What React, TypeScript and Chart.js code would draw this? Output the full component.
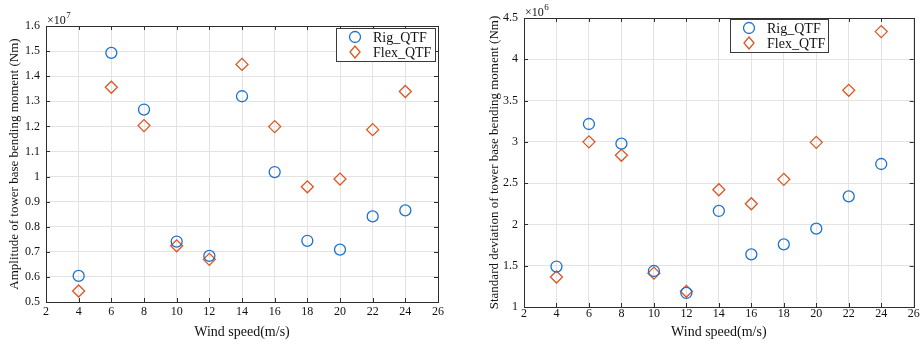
import React, { useEffect, useRef } from "react";
import { Chart, registerables } from "chart.js";

Chart.register(...registerables);

// ---------- data ----------
const windSpeeds = [4, 6, 8, 10, 12, 14, 16, 18, 20, 22, 24];
const seriesNames = ["Rig_QTF", "Flex_QTF"];
// amplitude (x 1e7 Nm)
const ampRig = [0.604, 1.493, 1.267, 0.741, 0.684, 1.32, 1.018, 0.744, 0.709, 0.841, 0.865];
const ampFlex = [0.544, 1.356, 1.203, 0.724, 0.67, 1.447, 1.199, 0.959, 0.99, 1.187, 1.339];
// standard deviation (x 1e6 Nm)
const stdRig = [1.49, 3.216, 2.978, 1.436, 1.17, 2.163, 1.638, 1.759, 1.949, 2.34, 2.732];
const stdFlex = [1.363, 3.0, 2.837, 1.41, 1.19, 2.42, 2.25, 2.546, 2.994, 3.624, 4.335];
const xTitle = "Wind speed(m/s)";
const ampTitle = "Amplitude of tower base bending moment (Nm)";
const stdTitle = "Standard deviation of tower base bending moment (Nm)";

const RIG_COLOR = "#1d72cf";
const FLEX_COLOR = "#df5520";
const TEXT = "#111";
const FONT = "'Liberation Serif', 'Times New Roman', serif";

function fmt(v: number) {
  return String(Number(v.toFixed(2)));
}

function drawMarker(ctx: CanvasRenderingContext2D, style: string, x: number, y: number, color: string) {
  ctx.save();
  ctx.strokeStyle = color;
  ctx.lineWidth = 1.3;
  ctx.beginPath();
  if (style === "circle") {
    ctx.arc(x, y, 5.5, 0, Math.PI * 2);
  } else {
    ctx.moveTo(x, y - 6);
    ctx.lineTo(x + 5, y);
    ctx.lineTo(x, y + 6);
    ctx.lineTo(x - 5, y);
    ctx.closePath();
  }
  ctx.stroke();
  ctx.restore();
}

const framePlugin = {
  id: "matlabFrame",
  afterDraw(chart: any, _args: any, opts: any) {
    const ctx: CanvasRenderingContext2D = chart.ctx;
    const { left, right, top, bottom } = chart.chartArea;
    const xs = chart.scales.x;
    const ys = chart.scales.y;
    ctx.save();
    ctx.strokeStyle = "#2e2e2e";
    ctx.lineWidth = 1;
    // inner ticks
    ctx.beginPath();
    xs.ticks.forEach((t: any) => {
      const px = Math.round(xs.getPixelForValue(t.value)) + 0.5;
      ctx.moveTo(px, bottom);
      ctx.lineTo(px, bottom - 4);
      ctx.moveTo(px, top);
      ctx.lineTo(px, top + 4);
    });
    ys.ticks.forEach((t: any) => {
      const py = Math.round(ys.getPixelForValue(t.value)) + 0.5;
      ctx.moveTo(left, py);
      ctx.lineTo(left + 4, py);
      ctx.moveTo(right, py);
      ctx.lineTo(right - 4, py);
    });
    ctx.stroke();
    // box
    ctx.strokeRect(Math.round(left) + 0.5, Math.round(top) + 0.5, Math.round(right - left), Math.round(bottom - top));

    // exponent label
    ctx.fillStyle = TEXT;
    ctx.textBaseline = "alphabetic";
    ctx.textAlign = "left";
    ctx.font = `12px ${FONT}`;
    const ex = left + 1;
    const ey = top - 2;
    ctx.fillText("×10", ex, ey);
    const w = ctx.measureText("×10").width;
    ctx.font = `9px ${FONT}`;
    ctx.fillText(opts.exponent, ex + w + 0.5, ey - 6);

    // legend
    const lg = opts.legend;
    ctx.fillStyle = "#ffffff";
    ctx.fillRect(lg.x, lg.y, lg.w, lg.h);
    ctx.strokeStyle = "#3a3a3a";
    ctx.lineWidth = 1;
    ctx.strokeRect(lg.x + 0.5, lg.y + 0.5, lg.w, lg.h);
    ctx.font = `14px ${FONT}`;
    ctx.textBaseline = "middle";
    chart.data.datasets.forEach((ds: any, i: number) => {
      const ry = lg.y + 9 + i * 15;
      drawMarker(ctx, ds.pointStyle, lg.x + 19, ry, ds.borderColor);
      ctx.fillStyle = TEXT;
      ctx.fillText(ds.label, lg.x + 37, ry + 1);
    });
    ctx.restore();
  },
};

type PanelProps = {
  width: number;
  height: number;
  rig: number[];
  flex: number[];
  yMin: number;
  yMax: number;
  yStep: number;
  yTitle: string;
  exponent: string;
  yWidth: number;
  xHeight: number;
  padRight: number;
  padTop: number;
  yTitlePad: number;
  xTickPad: number;
  legend: { x: number; y: number; w: number; h: number };
};

function Panel(p: PanelProps) {
  const ref = useRef<HTMLCanvasElement | null>(null);
  useEffect(() => {
    if (!ref.current) return;
    const chart = new Chart(ref.current, {
      type: "scatter",
      data: {
        datasets: [
          {
            label: seriesNames[0],
            data: windSpeeds.map((x, i) => ({ x, y: p.rig[i] })),
            pointStyle: "circle",
            pointRadius: 5.5,
            pointHoverRadius: 5.5,
            borderColor: RIG_COLOR,
            backgroundColor: "rgba(0,0,0,0)",
            pointBorderWidth: 1.3,
          },
          {
            label: seriesNames[1],
            data: windSpeeds.map((x, i) => ({ x, y: p.flex[i] })),
            pointStyle: "rectRot",
            pointRadius: 6,
            pointHoverRadius: 6,
            borderColor: FLEX_COLOR,
            backgroundColor: "rgba(0,0,0,0)",
            pointBorderWidth: 1.3,
          },
        ],
      },
      options: {
        animation: false,
        responsive: false,
        events: [],
        layout: { padding: { left: 0, right: p.padRight, top: p.padTop, bottom: 0 } },
        plugins: {
          legend: { display: false },
          tooltip: { enabled: false },
          matlabFrame: { exponent: p.exponent, legend: p.legend },
        } as any,
        scales: {
          x: {
            type: "linear",
            min: 2,
            max: 26,
            ticks: {
              stepSize: 2,
              padding: p.xTickPad,
              color: TEXT,
              font: { family: FONT, size: 12 },
              maxRotation: 0,
            },
            grid: { color: "#e3e3e3", drawTicks: false, lineWidth: 1 },
            border: { display: false },
            title: {
              display: true,
              text: xTitle,
              color: TEXT,
              font: { family: FONT, size: 14 },
              padding: { top: 0, bottom: 3 },
            },
            afterFit: (s: any) => {
              s.height = p.xHeight;
            },
          },
          y: {
            type: "linear",
            min: p.yMin,
            max: p.yMax,
            ticks: {
              stepSize: p.yStep,
              padding: 6,
              color: TEXT,
              font: { family: FONT, size: 12 },
              callback: (v: any) => fmt(Number(v)),
            },
            grid: { color: "#e3e3e3", drawTicks: false, lineWidth: 1 },
            border: { display: false },
            title: {
              display: true,
              text: p.yTitle,
              color: TEXT,
              font: { family: FONT, size: 13 },
              padding: { top: p.yTitlePad, bottom: 0 },
            },
            afterFit: (s: any) => {
              s.width = p.yWidth;
            },
          },
        },
      },
      plugins: [framePlugin as any],
    } as any);
    return () => chart.destroy();
  }, []);
  return (
    <div style={{ width: p.width, height: p.height, position: "relative" }}>
      <canvas ref={ref} width={p.width} height={p.height} style={{ display: "block" }} />
    </div>
  );
}

export default function App() {
  return (
    <div
      style={{
        position: "fixed",
        left: 0,
        top: 0,
        width: 921,
        height: 344,
        background: "#fff",
        display: "flex",
      }}
    >
      <Panel
        width={460}
        height={344}
        rig={ampRig}
        flex={ampFlex}
        yMin={0.5}
        yMax={1.6}
        yStep={0.1}
        yTitle={ampTitle}
        exponent="7"
        yWidth={46}
        xHeight={42}
        padRight={22}
        padTop={26}
        yTitlePad={7}
        xTickPad={3}
        legend={{ x: 336, y: 28, w: 99, h: 33 }}
      />
      <Panel
        width={461}
        height={344}
        rig={stdRig}
        flex={stdFlex}
        yMin={1}
        yMax={4.5}
        yStep={0.5}
        yTitle={stdTitle}
        exponent="6"
        yWidth={64}
        xHeight={37}
        padRight={7}
        padTop={18}
        yTitlePad={27}
        xTickPad={0}
        legend={{ x: 270, y: 19, w: 98, h: 33 }}
      />
    </div>
  );
}
